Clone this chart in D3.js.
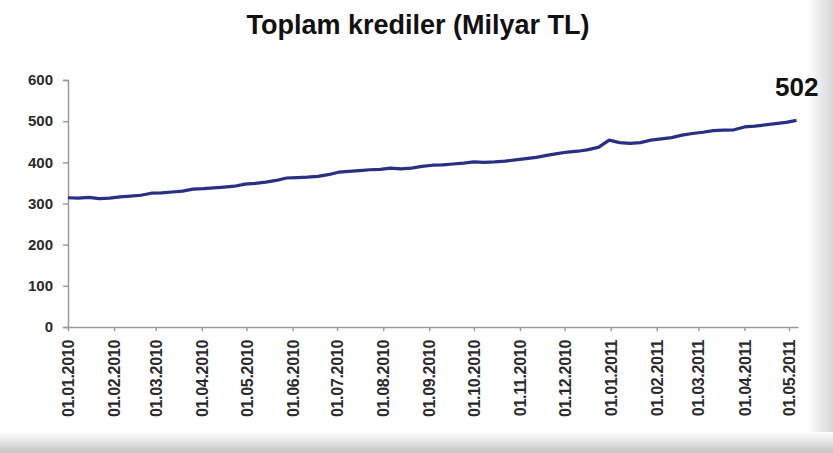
<!DOCTYPE html>
<html>
<head>
<meta charset="utf-8">
<script src="https://cdn.jsdelivr.net/npm/d3@7"></script>
<style>
  body { margin: 0; background: #fff; }
  svg { display: block; font-family: "Liberation Sans", Arial, sans-serif; }
  .axis path, .axis line { stroke: #9a9a9a; stroke-width: 1.5; }
  .axis text { fill: #2a2a2a; }
</style>
</head>
<body>
<div id="chart"></div>
<script>
// Weekly series start (first Friday of 2010)
const startDate = "2010-01-01";

// Total loans, billion TL, one value per week
const loans = [
  314, 313, 315, 312, 313, 316, 318, 320, 325, 326,
  328, 330, 335, 336, 338, 340, 342, 347, 349, 352,
  356, 362, 363, 364, 366, 370, 376, 378, 380, 382,
  383, 386, 384, 386, 390, 393, 394, 396, 398, 401,
  400, 401, 403, 406, 409, 412, 417, 421, 425, 427,
  431, 437, 454, 448, 446, 448, 454, 457, 460, 466,
  470, 473, 477, 478, 479, 486, 488, 491, 494, 497,
  502
];

// Month ticks on the x axis
const tickLabels = [
  "01.01.2010", "01.02.2010", "01.03.2010", "01.04.2010", "01.05.2010",
  "01.06.2010", "01.07.2010", "01.08.2010", "01.09.2010", "01.10.2010",
  "01.11.2010", "01.12.2010", "01.01.2011", "01.02.2011", "01.03.2011",
  "01.04.2011", "01.05.2011"
];

const yTicks = [0, 100, 200, 300, 400, 500, 600];

const W = 833, H = 453;
const margin = { top: 80, right: 35, bottom: 126, left: 68 };

const parseTick = d3.timeParse("%d.%m.%Y");
const start = d3.timeParse("%Y-%m-%d")(startDate);
const data = loans.map((v, i) => ({ date: d3.timeDay.offset(start, i * 7), value: v }));

const svg = d3.select("#chart").append("svg")
  .attr("width", W).attr("height", H);

// Frame: soft grey shadow on the right and bottom edges
const defs = svg.append("defs");
const gb = defs.append("linearGradient").attr("id", "shadowB")
  .attr("x1", 0).attr("y1", 0).attr("x2", 0).attr("y2", 1);
gb.append("stop").attr("offset", 0).attr("stop-color", "#ffffff");
gb.append("stop").attr("offset", 1).attr("stop-color", "#c4c4c4");
const gr = defs.append("linearGradient").attr("id", "shadowR")
  .attr("x1", 0).attr("y1", 0).attr("x2", 1).attr("y2", 0);
gr.append("stop").attr("offset", 0).attr("stop-color", "#ffffff");
gr.append("stop").attr("offset", 1).attr("stop-color", "#d6d6d6");

svg.append("rect").attr("x", 0).attr("y", 0).attr("width", W).attr("height", H).attr("fill", "#fff");
svg.append("rect").attr("x", 808).attr("y", 0).attr("width", W - 808).attr("height", H)
  .attr("fill", "url(#shadowR)");
svg.append("rect").attr("x", 0).attr("y", 432).attr("width", W).attr("height", H - 432)
  .attr("fill", "url(#shadowB)");

const x = d3.scaleTime()
  .domain([start, d3.timeDay.offset(start, 491)])
  .range([margin.left, W - margin.right]);

const y = d3.scaleLinear()
  .domain([0, 600])
  .range([H - margin.bottom, margin.top]);

// Title
svg.append("text")
  .attr("x", 418).attr("y", 34)
  .attr("text-anchor", "middle")
  .style("font-size", "27px").style("font-weight", "bold").style("fill", "#111")
  .text("Toplam krediler (Milyar TL)");

// Y axis
svg.append("g")
  .attr("class", "axis")
  .attr("transform", `translate(${margin.left},0)`)
  .call(d3.axisLeft(y).tickValues(yTicks).tickSize(5).tickPadding(10))
  .call(g => g.selectAll("text").style("font-size", "15px").style("font-weight", "bold"));

// X axis
svg.append("g")
  .attr("class", "axis")
  .attr("transform", `translate(0,${H - margin.bottom})`)
  .call(d3.axisBottom(x)
    .tickValues(tickLabels.map(parseTick))
    .tickFormat(d3.timeFormat("%d.%m.%Y"))
    .tickSize(4).tickSizeOuter(0))
  .call(g => g.selectAll("text")
    .style("font-size", "16px")
    .style("font-weight", "bold")
    .style("letter-spacing", "-0.3px")
    .attr("transform", "rotate(-90)")
    .attr("text-anchor", "end")
    .attr("dy", "0.35em")
    .attr("x", -13).attr("y", 0));

// Line
const line = d3.line()
  .x(d => x(d.date))
  .y(d => y(d.value));

svg.append("path")
  .datum(data)
  .attr("fill", "none")
  .attr("stroke", "#2a2f86")
  .attr("stroke-width", 3.2)
  .attr("stroke-linejoin", "round")
  .attr("d", line);

// Last value label
const last = data[data.length - 1];
svg.append("text")
  .attr("x", x(last.date) + 22).attr("y", 96)
  .attr("text-anchor", "end")
  .style("font-size", "26px").style("font-weight", "bold").style("fill", "#111")
  .text(last.value);
</script>
</body>
</html>
